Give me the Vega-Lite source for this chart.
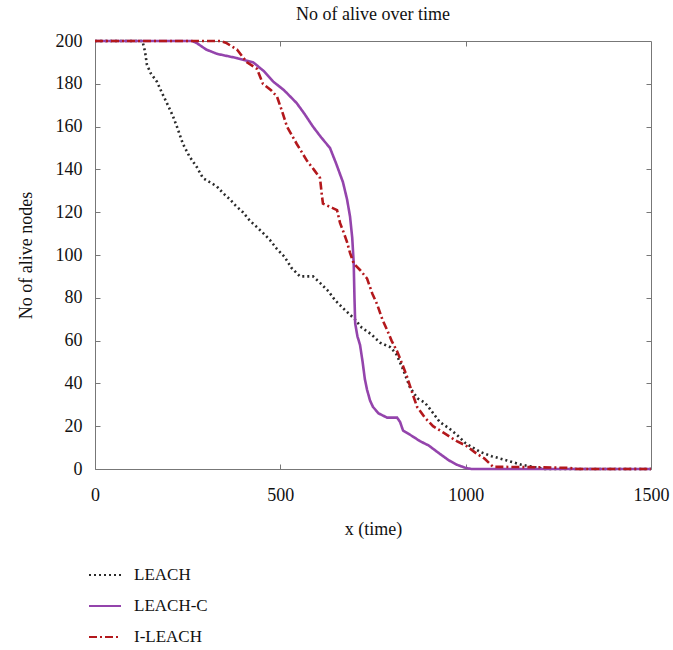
{
  "$schema": "https://vega.github.io/schema/vega-lite/v6.json",
  "width": 556,
  "height": 428,
  "autosize": {"type": "none"},
  "padding": {"left": 95, "top": 41, "right": 22, "bottom": 181},
  "background": "white",
  "title": {"text": "No of alive over time", "font": "Liberation Serif", "fontSize": 18, "fontWeight": "normal", "color": "#111", "offset": 8},
  "config": {
    "view": {"stroke": "#777", "strokeWidth": 1},
    "font": "Liberation Serif",
    "axis": {"labelFont": "Liberation Serif", "titleFont": "Liberation Serif", "labelFontSize": 18, "titleFontSize": 18, "titleFontWeight": "normal", "labelColor": "#111", "titleColor": "#111", "domainColor": "#777", "tickColor": "#777", "grid": false, "tickSize": -5, "labelFlush": false}
  },
  "data": {"values": [
    {"s":"LEACH","t":0,"v":200},{"s":"LEACH","t":128,"v":200},{"s":"LEACH","t":135,"v":195},{"s":"LEACH","t":140,"v":189},{"s":"LEACH","t":150,"v":185},{"s":"LEACH","t":167,"v":181},{"s":"LEACH","t":180,"v":176},{"s":"LEACH","t":194,"v":171},{"s":"LEACH","t":210,"v":165},{"s":"LEACH","t":221,"v":160},{"s":"LEACH","t":237,"v":152},{"s":"LEACH","t":255,"v":146},{"s":"LEACH","t":275,"v":141},{"s":"LEACH","t":291,"v":136},{"s":"LEACH","t":310,"v":134},{"s":"LEACH","t":329,"v":132},{"s":"LEACH","t":345,"v":129},{"s":"LEACH","t":364,"v":126},{"s":"LEACH","t":380,"v":123},{"s":"LEACH","t":399,"v":120},{"s":"LEACH","t":418,"v":116},{"s":"LEACH","t":437,"v":113},{"s":"LEACH","t":455,"v":110},{"s":"LEACH","t":472,"v":107},{"s":"LEACH","t":490,"v":103},{"s":"LEACH","t":512,"v":99},{"s":"LEACH","t":530,"v":94},{"s":"LEACH","t":553,"v":90},{"s":"LEACH","t":588,"v":90},{"s":"LEACH","t":607,"v":87},{"s":"LEACH","t":630,"v":83},{"s":"LEACH","t":647,"v":79},{"s":"LEACH","t":670,"v":75},{"s":"LEACH","t":701,"v":70},{"s":"LEACH","t":720,"v":66},{"s":"LEACH","t":745,"v":63},{"s":"LEACH","t":769,"v":59},{"s":"LEACH","t":796,"v":57},{"s":"LEACH","t":812,"v":54},{"s":"LEACH","t":830,"v":47},{"s":"LEACH","t":850,"v":38},{"s":"LEACH","t":870,"v":33},{"s":"LEACH","t":890,"v":31},{"s":"LEACH","t":904,"v":28},{"s":"LEACH","t":930,"v":22},{"s":"LEACH","t":955,"v":19},{"s":"LEACH","t":976,"v":16},{"s":"LEACH","t":1000,"v":12},{"s":"LEACH","t":1039,"v":8},{"s":"LEACH","t":1070,"v":6},{"s":"LEACH","t":1111,"v":4},{"s":"LEACH","t":1150,"v":2},{"s":"LEACH","t":1181,"v":1},{"s":"LEACH","t":1214,"v":0},{"s":"LEACH","t":1500,"v":0},
    {"s":"LEACH-C","t":0,"v":200},{"s":"LEACH-C","t":262,"v":200},{"s":"LEACH-C","t":275,"v":199},{"s":"LEACH-C","t":300,"v":196},{"s":"LEACH-C","t":329,"v":194},{"s":"LEACH-C","t":383,"v":192},{"s":"LEACH-C","t":427,"v":190},{"s":"LEACH-C","t":455,"v":186},{"s":"LEACH-C","t":481,"v":181},{"s":"LEACH-C","t":510,"v":177},{"s":"LEACH-C","t":544,"v":171},{"s":"LEACH-C","t":565,"v":166},{"s":"LEACH-C","t":588,"v":160},{"s":"LEACH-C","t":610,"v":155},{"s":"LEACH-C","t":634,"v":150},{"s":"LEACH-C","t":650,"v":143},{"s":"LEACH-C","t":669,"v":134},{"s":"LEACH-C","t":680,"v":126},{"s":"LEACH-C","t":688,"v":118},{"s":"LEACH-C","t":694,"v":108},{"s":"LEACH-C","t":698,"v":96},{"s":"LEACH-C","t":700,"v":80},{"s":"LEACH-C","t":702,"v":68},{"s":"LEACH-C","t":708,"v":62},{"s":"LEACH-C","t":715,"v":58},{"s":"LEACH-C","t":722,"v":50},{"s":"LEACH-C","t":728,"v":42},{"s":"LEACH-C","t":734,"v":37},{"s":"LEACH-C","t":742,"v":32},{"s":"LEACH-C","t":750,"v":29},{"s":"LEACH-C","t":765,"v":26},{"s":"LEACH-C","t":788,"v":24},{"s":"LEACH-C","t":815,"v":24},{"s":"LEACH-C","t":823,"v":22},{"s":"LEACH-C","t":831,"v":18},{"s":"LEACH-C","t":850,"v":16},{"s":"LEACH-C","t":877,"v":13},{"s":"LEACH-C","t":900,"v":11},{"s":"LEACH-C","t":931,"v":7},{"s":"LEACH-C","t":955,"v":4},{"s":"LEACH-C","t":976,"v":2},{"s":"LEACH-C","t":1000,"v":0.5},{"s":"LEACH-C","t":1015,"v":0},{"s":"LEACH-C","t":1500,"v":0},
    {"s":"I-LEACH","t":0,"v":200},{"s":"I-LEACH","t":340,"v":200},{"s":"I-LEACH","t":355,"v":199},{"s":"I-LEACH","t":383,"v":196},{"s":"I-LEACH","t":410,"v":190},{"s":"I-LEACH","t":437,"v":187},{"s":"I-LEACH","t":453,"v":180},{"s":"I-LEACH","t":475,"v":177},{"s":"I-LEACH","t":491,"v":174},{"s":"I-LEACH","t":505,"v":167},{"s":"I-LEACH","t":518,"v":160},{"s":"I-LEACH","t":544,"v":152},{"s":"I-LEACH","t":572,"v":144},{"s":"I-LEACH","t":590,"v":140},{"s":"I-LEACH","t":607,"v":136},{"s":"I-LEACH","t":612,"v":128},{"s":"I-LEACH","t":615,"v":124},{"s":"I-LEACH","t":640,"v":122},{"s":"I-LEACH","t":653,"v":121},{"s":"I-LEACH","t":661,"v":115},{"s":"I-LEACH","t":672,"v":110},{"s":"I-LEACH","t":680,"v":106},{"s":"I-LEACH","t":688,"v":101},{"s":"I-LEACH","t":698,"v":96},{"s":"I-LEACH","t":715,"v":93},{"s":"I-LEACH","t":734,"v":89},{"s":"I-LEACH","t":748,"v":82},{"s":"I-LEACH","t":761,"v":77},{"s":"I-LEACH","t":775,"v":70},{"s":"I-LEACH","t":788,"v":65},{"s":"I-LEACH","t":800,"v":60},{"s":"I-LEACH","t":815,"v":55},{"s":"I-LEACH","t":829,"v":49},{"s":"I-LEACH","t":842,"v":43},{"s":"I-LEACH","t":855,"v":36},{"s":"I-LEACH","t":869,"v":29},{"s":"I-LEACH","t":890,"v":24},{"s":"I-LEACH","t":912,"v":20},{"s":"I-LEACH","t":940,"v":17},{"s":"I-LEACH","t":976,"v":13},{"s":"I-LEACH","t":1000,"v":11},{"s":"I-LEACH","t":1031,"v":7},{"s":"I-LEACH","t":1050,"v":5},{"s":"I-LEACH","t":1074,"v":1},{"s":"I-LEACH","t":1100,"v":1},{"s":"I-LEACH","t":1200,"v":0.8},{"s":"I-LEACH","t":1280,"v":0.5},{"s":"I-LEACH","t":1300,"v":0},{"s":"I-LEACH","t":1500,"v":0}
  ]},
  "layer": [
    {
      "mark": {"type": "line", "strokeWidth": 2.6},
      "encoding": {
        "x": {"field": "t", "type": "quantitative", "scale": {"domain": [0, 1500], "nice": false}, "axis": {"values": [0, 500, 1000, 1500], "format": "d", "title": "x (time)", "labelPadding": 22, "titlePadding": 16, "domain": false}},
        "y": {"field": "v", "type": "quantitative", "scale": {"domain": [0, 200], "nice": false}, "axis": {"values": [0,20,40,60,80,100,120,140,160,180,200], "title": "No of alive nodes", "labelPadding": 18, "titlePadding": 20, "domain": false}},
        "color": {"field": "s", "type": "nominal", "sort": ["LEACH", "LEACH-C", "I-LEACH"], "scale": {"domain": ["LEACH", "LEACH-C", "I-LEACH"], "range": ["#2a2a2a", "#9444ac", "#b3181c"]},
          "legend": {"title": null, "orient": "none", "legendX": -7, "legendY": 517, "symbolType": "stroke", "symbolSize": 1024, "symbolStrokeWidth": 2, "labelFont": "Liberation Serif", "labelFontSize": 17, "labelColor": "#111", "labelOffset": 12, "rowPadding": 6, "padding": 0}},
        "strokeDash": {"field": "s", "type": "nominal", "sort": ["LEACH", "LEACH-C", "I-LEACH"], "scale": {"domain": ["LEACH", "LEACH-C", "I-LEACH"], "range": [[2, 3], [1, 0], [8, 3, 2, 3]]}, "legend": null},
        "order": {"field": "t", "type": "quantitative"}
      }
    },
    {
      "mark": {"type": "point", "opacity": 0},
      "encoding": {
        "x": {"field": "t", "type": "quantitative", "scale": {"domain": [0, 1500], "nice": false}, "axis": {"values": [500, 1000], "labels": false, "title": null, "domain": false, "orient": "top"}},
        "y": {"field": "v", "type": "quantitative", "scale": {"domain": [0, 200], "nice": false}, "axis": {"values": [20,40,60,80,100,120,140,160,180], "labels": false, "title": null, "domain": false, "orient": "right"}}
      }
    }
  ],
  "resolve": {"axis": {"x": "independent", "y": "independent"}}
}
